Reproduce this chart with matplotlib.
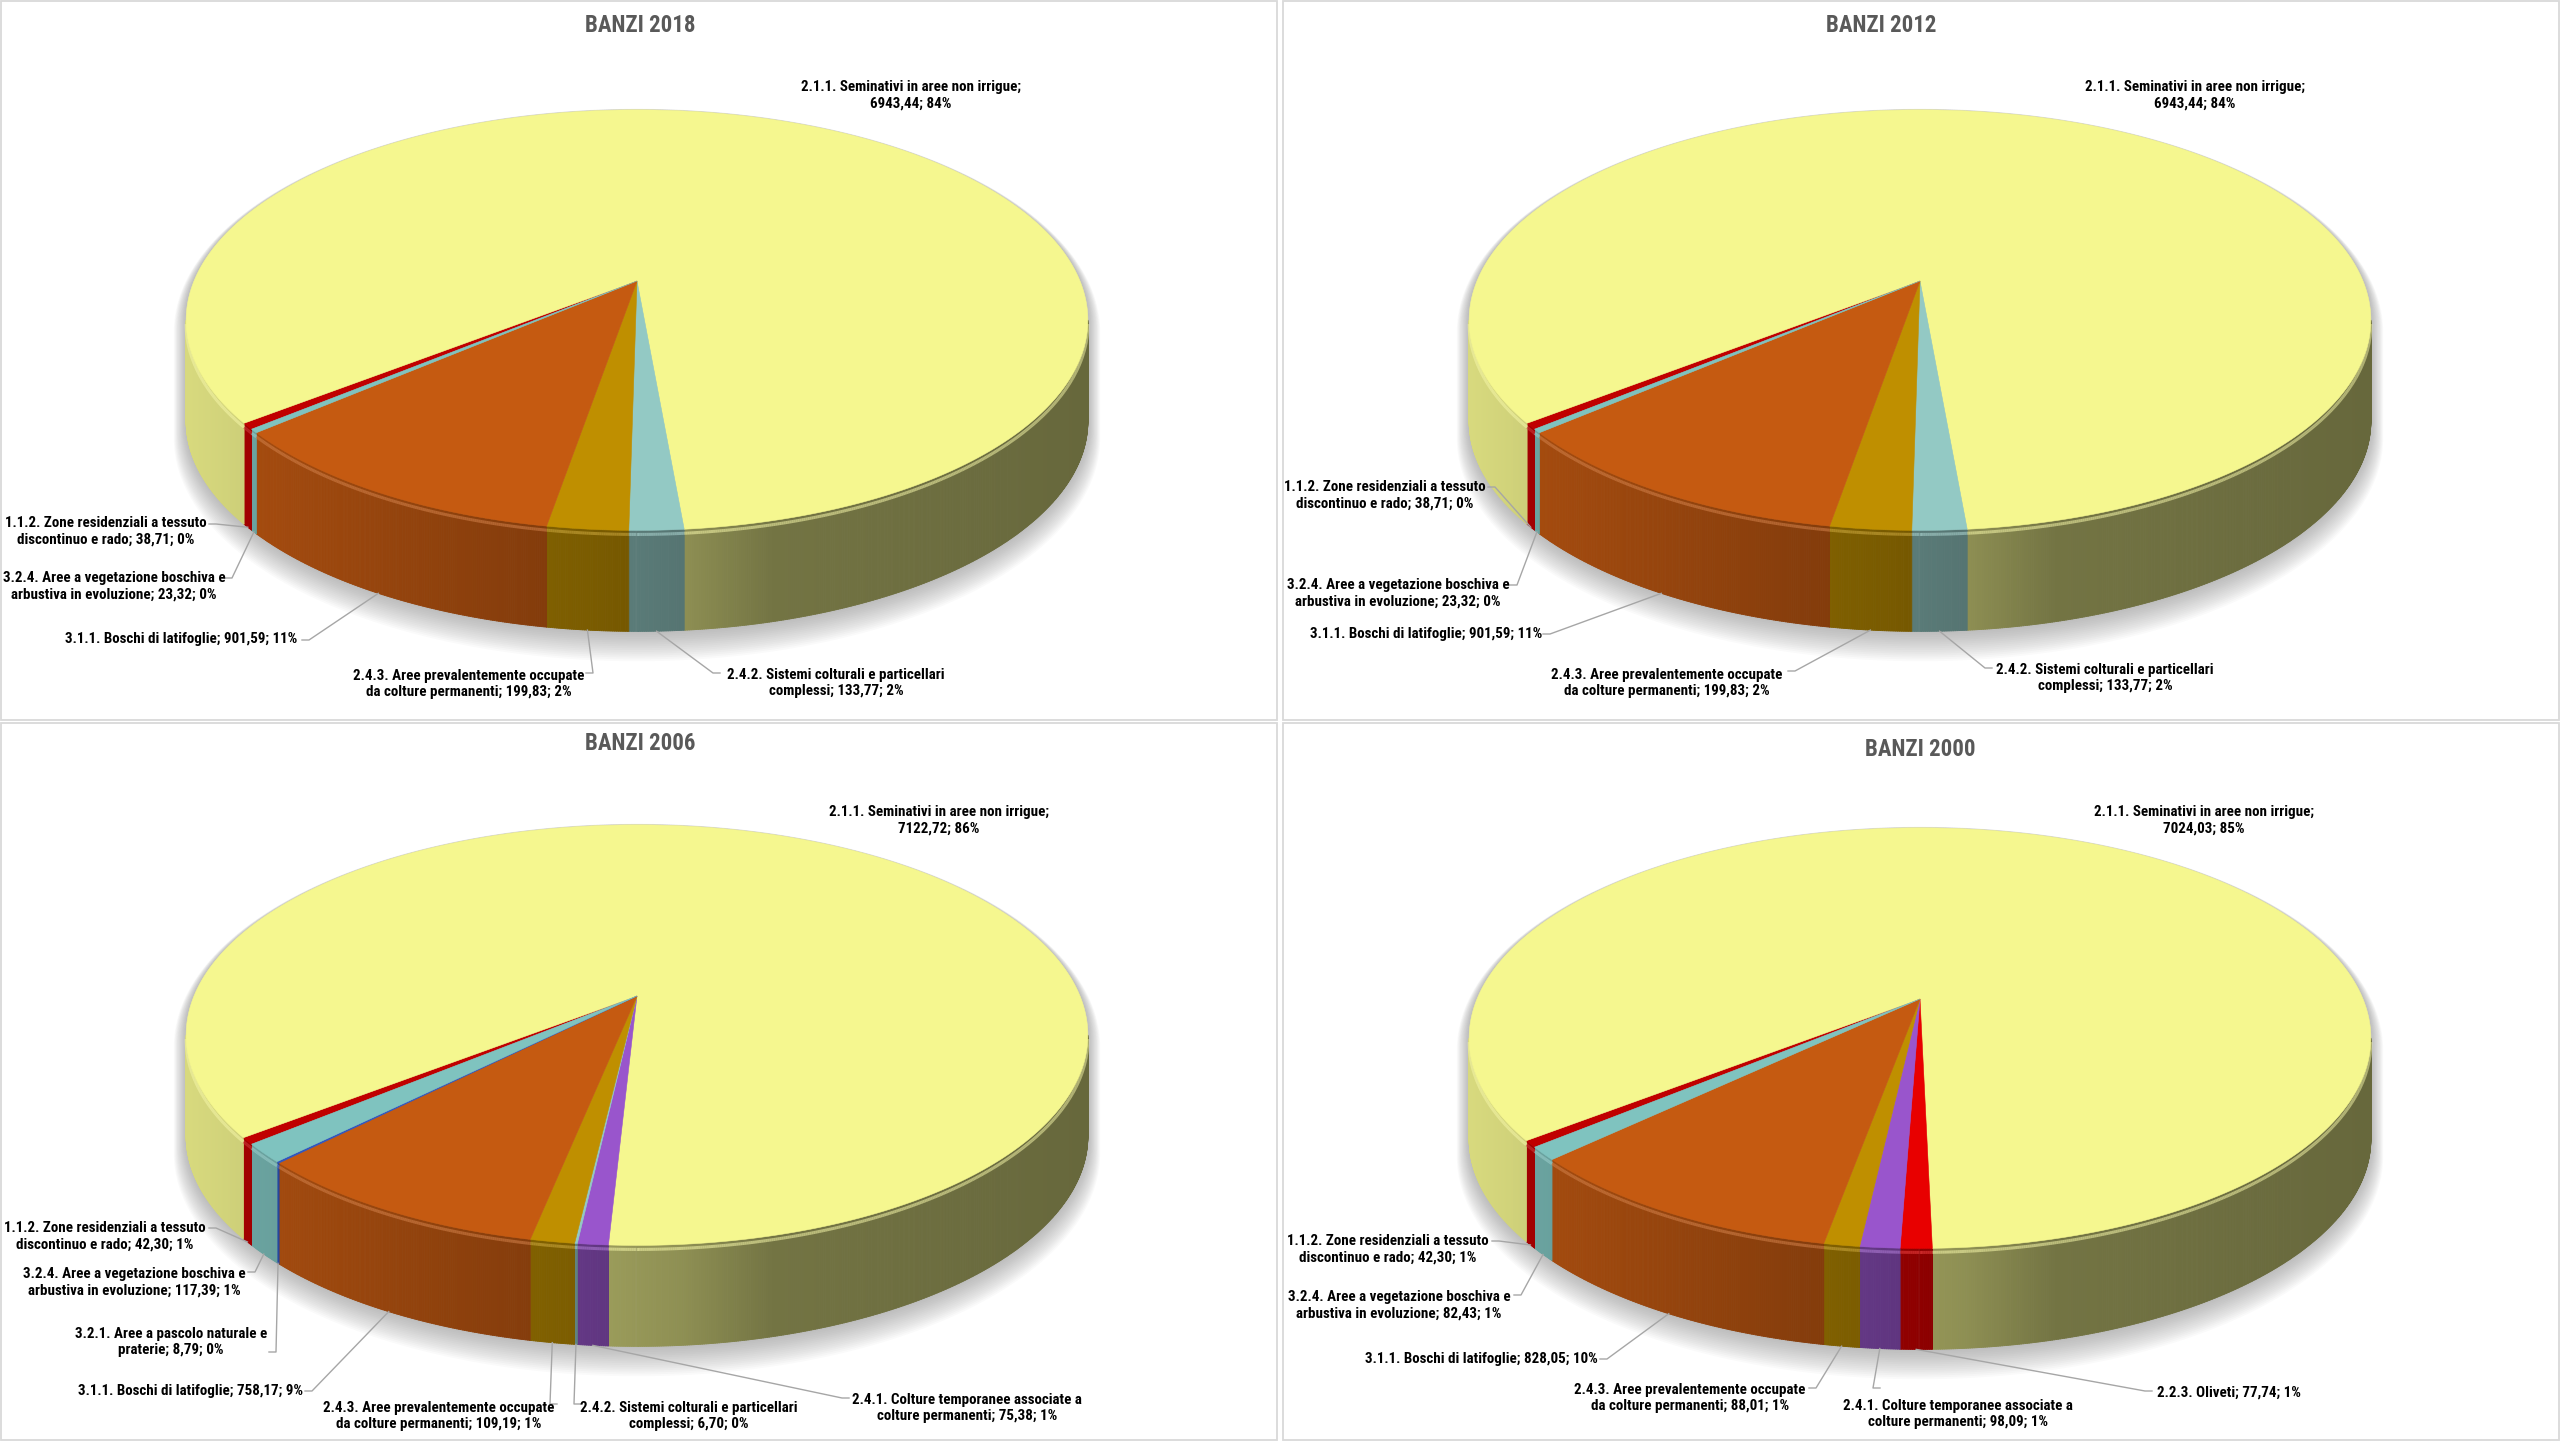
import numpy as np
import matplotlib
matplotlib.use("Agg")
import matplotlib.pyplot as plt
from matplotlib.collections import PolyCollection, LineCollection
from matplotlib.patches import Polygon, Rectangle
from matplotlib import font_manager

# ---------------- DATA ----------------
years = ["2018", "2012", "2006", "2000"]

codes_2018 = ["1.1.2", "2.1.1", "2.4.2", "2.4.3", "3.1.1", "3.2.4"]
values_2018 = [38.71, 6943.44, 133.77, 199.83, 901.59, 23.32]

codes_2012 = ["1.1.2", "2.1.1", "2.4.2", "2.4.3", "3.1.1", "3.2.4"]
values_2012 = [38.71, 6943.44, 133.77, 199.83, 901.59, 23.32]

codes_2006 = ["1.1.2", "2.1.1", "2.4.1", "2.4.2", "2.4.3", "3.1.1", "3.2.1", "3.2.4"]
values_2006 = [42.30, 7122.72, 75.38, 6.70, 109.19, 758.17, 8.79, 117.39]

codes_2000 = ["1.1.2", "2.1.1", "2.2.3", "2.4.1", "2.4.3", "3.1.1", "3.2.4"]
values_2000 = [42.30, 7024.03, 77.74, 98.09, 88.01, 828.05, 82.43]

names = {
    "1.1.2": "Zone residenziali a tessuto\ndiscontinuo e rado",
    "2.1.1": "Seminativi in aree non irrigue",
    "2.2.3": "Oliveti",
    "2.4.1": "Colture temporanee associate a\ncolture permanenti",
    "2.4.2": "Sistemi colturali e particellari\ncomplessi",
    "2.4.3": "Aree prevalentemente occupate\nda colture permanenti",
    "3.1.1": "Boschi di latifoglie",
    "3.2.1": "Aree a pascolo naturale e\npraterie",
    "3.2.4": "Aree a vegetazione boschiva e\narbustiva in evoluzione",
}

# ---------------- STYLE / LAYOUT ----------------
colors = {
    "1.1.2": "#C00000",
    "2.1.1": "#F5F78F",
    "2.2.3": "#E80000",
    "2.4.1": "#9955CC",
    "2.4.2": "#93C9C4",
    "2.4.3": "#BF8F00",
    "3.1.1": "#C55A11",
    "3.2.1": "#2F55C0",
    "3.2.4": "#7FC3BF",
}
name_sep = {"2.1.1": ";\n"}

data = {
    "2018": (codes_2018, values_2018),
    "2012": (codes_2012, values_2012),
    "2006": (codes_2006, values_2006),
    "2000": (codes_2000, values_2000),
}

W, H = 2560, 1441
A_AX, B_AX, PERSP, DEPTH = 443.0, 203.0, 0.186, 101.0
START_DEG = -140.0  # math angle where the first slice starts, slices run clockwise

panel_rects = {
    "2018": (0, 0, 1278, 721),
    "2012": (1282, 0, 1278, 721),
    "2006": (0, 722, 1278, 719),
    "2000": (1282, 722, 1278, 719),
}
centers = {"2018": (637, 281), "2012": (1920, 281), "2006": (637, 996), "2000": (1920, 999)}
titles_xy = {"2018": (640, 26), "2012": (1881, 26), "2006": (640, 743), "2000": (1920, 749)}

# label center, leader start (None = no leader)
label_layout = {
    "2018": {
        "2.1.1": ((911, 95), None),
        "1.1.2": ((106, 531), (209, 524)),
        "3.2.4": ((114, 586), (225, 578)),
        "3.1.1": ((181, 639), (302, 640)),
        "2.4.3": ((469, 684), (586, 673)),
        "2.4.2": ((836, 683), (720, 673)),
    },
    "2012": {
        "2.1.1": ((2195, 95), None),
        "1.1.2": ((1385, 495), (1488, 487)),
        "3.2.4": ((1398, 593), (1510, 585)),
        "3.1.1": ((1426, 634), (1543, 634)),
        "2.4.3": ((1667, 683), (1788, 671)),
        "2.4.2": ((2105, 678), (1992, 668)),
    },
    "2006": {
        "2.1.1": ((939, 820), None),
        "1.1.2": ((105, 1236), (209, 1228)),
        "3.2.4": ((134, 1282), (248, 1272)),
        "3.2.1": ((171, 1342), (269, 1352)),
        "3.1.1": ((191, 1391), (305, 1391)),
        "2.4.3": ((439, 1416), (557, 1404)),
        "2.4.2": ((689, 1416), (581, 1404)),
        "2.4.1": ((967, 1408), (849, 1398)),
    },
    "2000": {
        "2.1.1": ((2204, 820), None),
        "1.1.2": ((1388, 1249), (1492, 1241)),
        "3.2.4": ((1399, 1305), (1514, 1295)),
        "3.1.1": ((1481, 1359), (1600, 1359)),
        "2.4.3": ((1690, 1398), (1809, 1388)),
        "2.4.1": ((1958, 1414), (1880, 1388)),
        "2.2.3": ((2229, 1393), (2152, 1391)),
    },
}

# font choice (narrow sans if available)
available = {f.name for f in font_manager.fontManager.ttflist}
narrow = [f for f in ["Liberation Sans Narrow", "Roboto Condensed", "Open Sans Condensed"] if f in available]
FONT = narrow + ["Roboto", "DejaVu Sans"]
LABEL_SIZE = 10.8 if narrow else 9.8
TITLE_SIZE = 16.5 if narrow else 15


def proj(cx, cy, t, z):
    u, v = np.cos(t), np.sin(t)
    w = 1.0 + PERSP * v
    return cx + A_AX * u / w, cy - B_AX * v / w + DEPTH * z


def shade(base, frac):
    f = np.interp(frac, [0.0, 0.1, 0.45, 0.55, 0.65, 1.0],
                  [0.88, 0.82, 0.64, 0.58, 0.47, 0.42])
    rgb = np.array(matplotlib.colors.to_rgb(base))
    return tuple(np.clip(rgb * f, 0, 1))


def lighten(base, amt):
    rgb = np.array(matplotlib.colors.to_rgb(base))
    return tuple(rgb + (1 - rgb) * amt)


def fmt(v):
    return f"{v:.2f}".replace(".", ",")


fig = plt.figure(figsize=(W / 100, H / 100), dpi=100)
ax = fig.add_axes([0, 0, 1, 1])
ax.set_xlim(0, W)
ax.set_ylim(H, 0)
ax.axis("off")

t_right = -np.arcsin(PERSP)
t_left = -np.pi + np.arcsin(PERSP)
half_w = A_AX / np.sqrt(1 - PERSP ** 2)

for yr in years:
    codes, vals = data[yr]
    vals = np.array(vals, dtype=float)
    total = vals.sum()
    cum = np.concatenate([[0.0], np.cumsum(vals)]) / total * 360.0
    cx, cy = centers[yr]

    # panel frame
    px, py, pw, ph = panel_rects[yr]
    ax.add_patch(Rectangle((px + 1, py + 1), pw - 2, ph - 2, fill=False,
                           edgecolor="#D9D9D9", lw=1.3, zorder=0))

    # soft shadow around silhouette
    tb = np.linspace(t_right, t_left + 2 * np.pi, 200)
    xb, yb = proj(cx, cy, tb, 0)
    tf = np.linspace(t_left, t_right, 200)
    xf, yf = proj(cx, cy, tf, 1)
    sx = np.concatenate([xb, xf])
    sy = np.concatenate([yb, yf])
    mcx, mcy = cx, (sy.min() + sy.max()) / 2
    for k in range(16, 0, -1):
        sc = 1 + 0.0017 * k
        ax.add_patch(Polygon(np.column_stack([mcx + (sx - mcx) * sc,
                                              mcy + (sy - mcy) * (sc + 0.002 * k) + 0.9 * k]),
                             closed=True, facecolor="#808080", edgecolor="none",
                             alpha=0.04, zorder=1))

    # walls
    theta0 = START_DEG
    s_a = theta0 - np.degrees(t_right)
    s_b = theta0 - np.degrees(t_left)
    grid = list(np.linspace(s_a, s_b, 700))
    for m in (-1, 0, 1):
        for cval in cum:
            sv = cval + 360 * m
            if s_a < sv < s_b:
                grid.append(sv)
    grid = np.unique(np.array(grid))
    polys, fcs, segs, lcs = [], [], [], []
    for s0, s1 in zip(grid[:-1], grid[1:]):
        mid = ((s0 + s1) / 2) % 360
        idx = min(np.searchsorted(cum, mid, side="right") - 1, len(codes) - 1)
        base = colors[codes[idx]]
        ta, tb2 = np.radians(theta0 - s0), np.radians(theta0 - s1)
        x0, y0 = proj(cx, cy, ta, 0)
        x1, y1 = proj(cx, cy, tb2, 0)
        x2, y2 = proj(cx, cy, tb2, 1)
        x3, y3 = proj(cx, cy, ta, 1)
        polys.append([(x0, y0), (x1, y1), (x2, y2), (x3, y3)])
        frac = ((x0 + x1) / 2 - (cx - half_w)) / (2 * half_w)
        fcs.append(shade(base, frac))
        hx0, hy0 = proj(cx, cy, ta, 0.04)
        hx1, hy1 = proj(cx, cy, tb2, 0.04)
        segs.append([(hx0, hy0), (hx1, hy1)])
        lcs.append(lighten(base, 0.25) + (0.55,))
    ax.add_collection(PolyCollection(polys, facecolors=fcs, edgecolors=fcs,
                                     linewidths=0.6, zorder=2))
    ax.add_collection(LineCollection(segs, colors=lcs, linewidths=2.2, zorder=3))

    # top surface slices
    for i, code in enumerate(codes):
        n = max(3, int((cum[i + 1] - cum[i]) * 3) + 3)
        ss = np.linspace(cum[i], cum[i + 1], n)
        tt = np.radians(theta0 - ss)
        xs, ys = proj(cx, cy, tt, 0)
        pts = np.column_stack([np.concatenate([[cx], xs]), np.concatenate([[cy], ys])])
        ax.add_patch(Polygon(pts, closed=True, facecolor=colors[code],
                             edgecolor=colors[code], lw=0.4, zorder=4))

    # title
    tx, ty = titles_xy[yr]
    ax.text(tx, ty, f"BANZI {yr}", ha="center", va="center", fontsize=TITLE_SIZE,
            fontweight="bold", color="#595959", family=FONT, zorder=6)

    # labels and leader lines
    for i, code in enumerate(codes):
        pct = int(round(vals[i] / total * 100))
        sep = name_sep.get(code, "; ")
        txt = f"{code}. {names[code]}{sep}{fmt(vals[i])}; {pct}%"
        (lx, ly), lead = label_layout[yr][code]
        ax.text(lx, ly, txt, ha="center", va="center", multialignment="center",
                fontsize=LABEL_SIZE, fontweight="bold", color="black", family=FONT,
                linespacing=1.25, zorder=6)
        if lead is not None:
            midt = np.radians(theta0 - (cum[i] + cum[i + 1]) / 2)
            axp, ayp = proj(cx, cy, midt, 1)
            sgn = 1 if axp > lead[0] else -1
            ax.plot([lead[0], lead[0] + sgn * 7, axp], [lead[1], lead[1], ayp],
                    color="#A6A6A6", lw=1.0, zorder=5)

fig.savefig("out.png", dpi=100, facecolor="white")
